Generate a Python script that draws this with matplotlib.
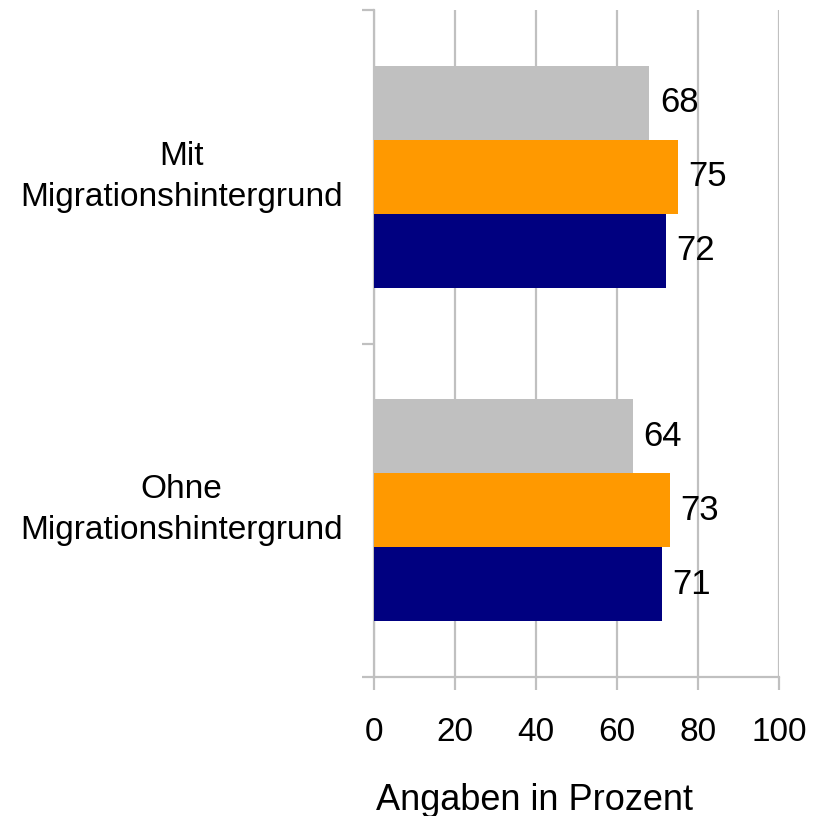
import numpy as np
import matplotlib
matplotlib.use('Agg')
import matplotlib.pyplot as plt

plt.rcParams['font.family'] = ['Liberation Sans', 'DejaVu Sans']

categories = ['Ohne\nMigrationshintergrund', 'Mit\nMigrationshintergrund']
grau = [64, 68]
orange = [73, 75]
blau = [71, 72]
xticks = [0, 20, 40, 60, 80, 100]

farben = ['#c0c0c0', '#ff9900', '#000080']
reihen = [grau, orange, blau]
h = 0.222
offsets = [h, 0, -h]

fig = plt.figure(figsize=(8.21, 8.16), dpi=100)
ax = fig.add_axes([374/821, 139/816, 405/821, 667/816])

y = np.arange(len(categories))
for werte, farbe, off in zip(reihen, farben, offsets):
    bars = ax.barh(y + off, werte, height=h, color=farbe, zorder=3)
    for b, v in zip(bars, werte):
        ax.annotate(str(v), (b.get_width(), b.get_y() + b.get_height() / 2),
                    xytext=(7.5, 0), textcoords='offset points',
                    va='center', ha='left', fontsize=25, zorder=4)

ax.set_xlim(0, 100)
ax.set_ylim(-0.5, 1.5)
ax.set_xticks(xticks)
ax.set_xticklabels([str(t) for t in xticks], fontsize=24)
ax.set_yticks([-0.5, 0.5, 1.5])
ax.set_yticklabels([])
ax.xaxis.grid(True, color='#c0c0c0', linewidth=1.6, zorder=0)
ax.set_axisbelow(True)

for s in ['top', 'right']:
    ax.spines[s].set_visible(False)
for s in ['left', 'bottom']:
    ax.spines[s].set_color('#c0c0c0')
    ax.spines[s].set_linewidth(1.6)
ax.tick_params(axis='both', color='#c0c0c0', width=1.6, length=9)
ax.tick_params(axis='x', pad=20)

# Kategorienamen links neben der Achse, zentriert
for yi, name in zip(y, categories):
    ax.text(-0.475, yi, name, ha='center', va='center', multialignment='center',
            fontsize=24, linespacing=1.4, transform=ax.get_yaxis_transform())

fig.text(534/821, 1 - 800/816, 'Angaben in Prozent', ha='center', va='center', fontsize=26)

plt.savefig('out.png')
plt.close()
